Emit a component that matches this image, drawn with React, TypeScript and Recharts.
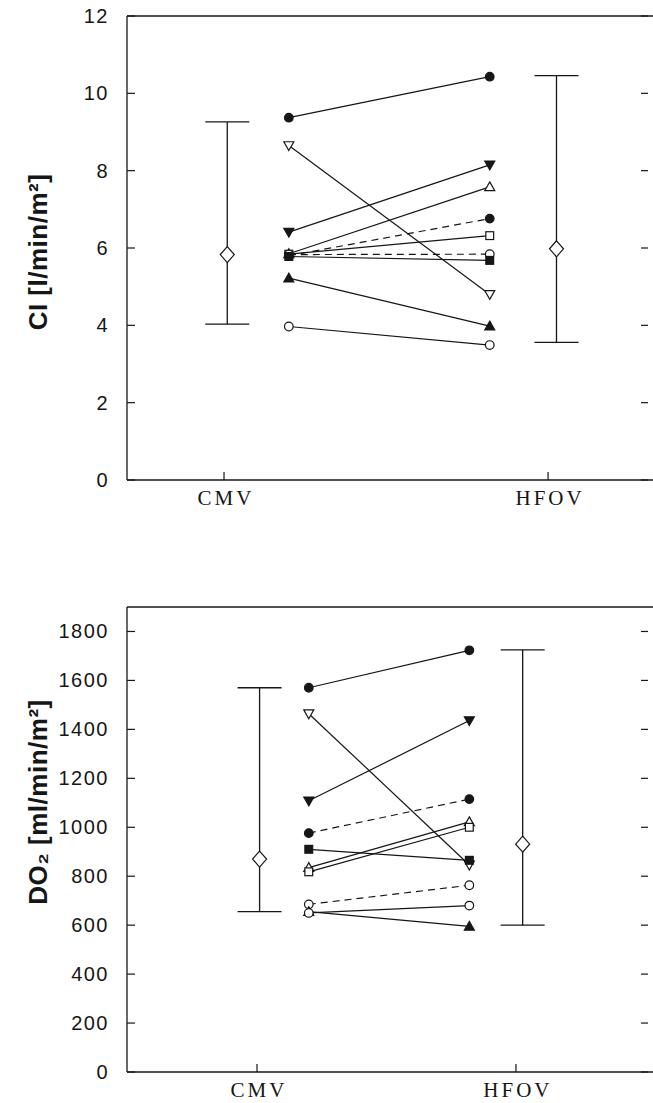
import { ComposedChart, Scatter, XAxis, YAxis, ErrorBar, Label } from 'recharts'

const INK = '#161616'

// group names on the x axis
const groups = ['CMV', 'HFOV']

// CI [l/min/m²] per patient, CMV -> HFOV
const ciBefore = [9.37, 8.65, 6.41, 5.85, 5.8, 5.84, 5.83, 5.78, 5.22, 3.97]
const ciAfter = [10.43, 4.8, 8.15, 7.58, 6.76, 6.32, 5.84, 5.68, 3.98, 3.49]
// median and range per group
const ciMedian = [5.83, 5.98]
const ciLow = [4.03, 3.56]
const ciHigh = [9.26, 10.46]
const ciTicks = [0, 2, 4, 6, 8, 10, 12]

// DO2 [ml/min/m²] per patient, CMV -> HFOV
const do2Before = [1570, 1464, 1108, 976, 910, 835, 818, 685, 655, 650]
const do2After = [1723, 846, 1436, 1115, 865, 1022, 1000, 763, 595, 680]
const do2Median = [870, 931]
const do2Low = [655, 600]
const do2High = [1570, 1725]
const do2Ticks = [0, 200, 400, 600, 800, 1000, 1200, 1400, 1600, 1800]

// marker + line style per patient
const ciMarkers = ['dot', 'triDownOpen', 'triDown', 'triUpOpen', 'dot', 'squareOpen', 'circleOpen', 'square', 'triUp', 'circleOpen']
const ciDashed = [false, false, false, false, true, false, true, false, false, false]
const do2Markers = ['dot', 'triDownOpen', 'triDown', 'dot', 'square', 'triUpOpen', 'squareOpen', 'circleOpen', 'triUp', 'circleOpen']
const do2Dashed = [false, false, false, true, false, false, false, true, false, false]

// horizontal placement (in group units: CMV = 1, HFOV = 2)
const X_BEFORE = 1.2
const X_AFTER = 1.82
const X_BAR = [1.01, 2.026]

// plot box: left edge at 127, right edge just outside the picture
const PLOT_W = 528

function Marker({ cx, cy, kind }: { cx: number; cy: number; kind: string }) {
  const open = kind.endsWith('Open')
  const fill = open ? '#fff' : INK
  const common = { fill, stroke: INK, strokeWidth: 1.2 }
  if (kind === 'dot' || kind === 'circleOpen') return <circle cx={cx} cy={cy} r={4.3} {...common} />
  if (kind === 'square' || kind === 'squareOpen') return <rect x={cx - 3.9} y={cy - 3.9} width={7.8} height={7.8} {...common} />
  if (kind === 'triUp' || kind === 'triUpOpen')
    return <polygon points={`${cx},${cy - 5} ${cx + 5},${cy + 3.8} ${cx - 5},${cy + 3.8}`} {...common} />
  if (kind === 'triDown' || kind === 'triDownOpen')
    return <polygon points={`${cx},${cy + 5} ${cx + 5},${cy - 3.8} ${cx - 5},${cy - 3.8}`} {...common} />
  return null
}

const Diamond = (p: any) => (
  <polygon
    points={`${p.cx},${p.cy - 8} ${p.cx + 7},${p.cy} ${p.cx},${p.cy + 8} ${p.cx - 7},${p.cy}`}
    fill="#fff"
    stroke={INK}
    strokeWidth={1.2}
  />
)

// left ticks point inwards; the matching right-side ticks are drawn from here too
const LeftTick = (p: any) => (
  <g>
    <line x1={p.x} y1={p.y} x2={p.x + 8} y2={p.y} stroke={INK} strokeWidth={1.2} />
    <line x1={p.x + PLOT_W - 14} y1={p.y} x2={p.x + PLOT_W - 7} y2={p.y} stroke={INK} strokeWidth={1.2} />
    <text x={p.x - 18} y={p.y} dy={7} textAnchor="end" fontSize={20} fill={INK} fontFamily="Liberation Sans, Arial" letterSpacing={1.5}>
      {p.payload.value}
    </text>
  </g>
)
const TopTick = (p: any) => <line x1={p.x} y1={p.y} x2={p.x} y2={p.y + 8} stroke={INK} strokeWidth={1.2} />
const BottomTick = (p: any) => (
  <g>
    <line x1={p.x} y1={p.y} x2={p.x} y2={p.y - 8} stroke={INK} strokeWidth={1.2} />
    <text x={p.x + 2} y={p.y + 25} textAnchor="middle" fontSize={21} fill={INK} fontFamily="Liberation Serif, serif" letterSpacing={3}>
      {groups[p.payload.value - 1]}
    </text>
  </g>
)

type PanelProps = {
  before: number[]
  after: number[]
  markers: string[]
  dashed: boolean[]
  median: number[]
  low: number[]
  high: number[]
  yTicks: number[]
  yMax: number
  xDomain: [number, number]
  height: number
  margin: { top: number; right: number; bottom: number; left: number }
  title: (x: number, y: number) => JSX.Element
  titleY: number
}

function Panel(props: PanelProps) {
  const { before, after, markers, dashed, median, low, high, yTicks, yMax, xDomain, height, margin, title, titleY } = props
  const summary = median.map((m, i) => ({ x: X_BAR[i], y: m, err: [m - low[i], high[i] - m] }))
  return (
    <ComposedChart width={656} height={height} margin={margin}>
      <XAxis dataKey="x" type="number" domain={xDomain} ticks={[1, 2]} allowDataOverflow
        axisLine={{ stroke: INK, strokeWidth: 1.3 }} tickLine={false} tickSize={0} tickMargin={0} tick={<BottomTick />} height={25} interval={0} />
      <XAxis xAxisId="top" orientation="top" type="number" domain={xDomain} ticks={[1, 2]} allowDataOverflow
        axisLine={{ stroke: INK, strokeWidth: 1.3 }} tickLine={false} tickSize={0} tickMargin={0} tick={<TopTick />} height={1} interval={0} />
      <YAxis dataKey="y" type="number" domain={[0, yMax]} ticks={yTicks} allowDataOverflow interval={0}
        axisLine={{ stroke: INK, strokeWidth: 1.3 }} tickLine={false} tickSize={0} tickMargin={0} tick={<LeftTick />} width={70}>
        <Label content={() => title(38, titleY)} />
      </YAxis>
      {before.map((b, i) => (
        <Scatter
          key={i}
          data={[{ x: X_BEFORE, y: b }, { x: X_AFTER, y: after[i] }]}
          line={{ stroke: INK, strokeWidth: 1.2, strokeDasharray: dashed[i] ? '7 5' : undefined }}
          shape={(p: any) => <Marker cx={p.cx} cy={p.cy} kind={markers[i]} />}
          isAnimationActive={false}
        />
      ))}
      <Scatter data={summary} shape={Diamond} isAnimationActive={false}>
        <ErrorBar dataKey="err" direction="y" width={22} stroke={INK} strokeWidth={1.3} />
      </Scatter>
    </ComposedChart>
  )
}

const titleStyle = { fontSize: 26, fontWeight: 'bold' as const, fill: INK, fontFamily: 'Liberation Sans, Arial', letterSpacing: 0.5 }

const ciTitle = (x: number, y: number) => (
  <text transform={`rotate(-90 ${x} ${y})`} x={x} y={y} dy={9} textAnchor="middle" {...titleStyle}>
    CI [l/min/m²]
  </text>
)
const do2Title = (x: number, y: number) => (
  <text transform={`rotate(-90 ${x} ${y})`} x={x} y={y} dy={9} textAnchor="middle" {...titleStyle}>
    DO₂ [ml/min/m²]
  </text>
)

export default function App() {
  return (
    <div style={{ position: 'absolute', left: 0, top: 0, width: 653, height: 1103, background: '#fff', overflow: 'hidden' }}>
      <div style={{ position: 'absolute', left: 0, top: 0 }}>
        <Panel before={ciBefore} after={ciAfter} markers={ciMarkers} dashed={ciDashed}
          median={ciMedian} low={ciLow} high={ciHigh} yTicks={ciTicks} yMax={12}
          xDomain={[0.7006, 2.33]} height={520} margin={{ top: 15, right: 1, bottom: 15, left: 57 }}
          title={ciTitle} titleY={252} />
      </div>
      <div style={{ position: 'absolute', left: 0, top: 590 }}>
        <Panel before={do2Before} after={do2After} markers={do2Markers} dashed={do2Dashed}
          median={do2Median} low={do2Low} high={do2High} yTicks={do2Ticks} yMax={1900}
          xDomain={[0.498, 2.537]} height={513} margin={{ top: 16, right: 1, bottom: 6, left: 57 }}
          title={do2Title} titleY={212} />
      </div>
    </div>
  )
}
